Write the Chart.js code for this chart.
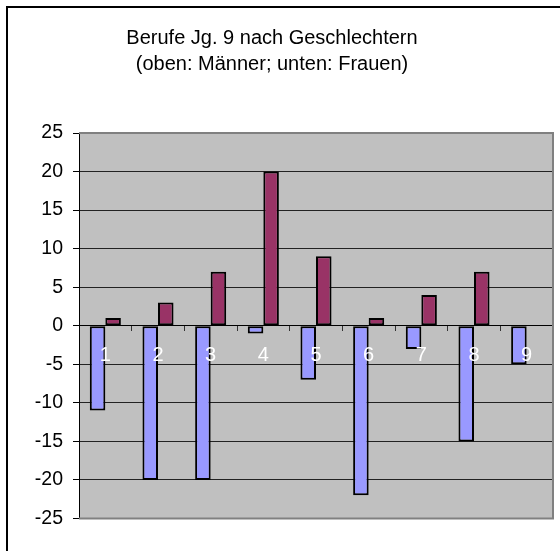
<!DOCTYPE html>
<html>
<head>
<meta charset="utf-8">
<script src="https://cdn.jsdelivr.net/npm/chart.js@4/dist/chart.umd.min.js"></script>
<style>
  html, body { margin: 0; padding: 0; background: #fff; }
  canvas { display: block; }
</style>
</head>
<body>
<canvas id="chart" width="560" height="551"></canvas>
<script>
// Jahrgang 9: Berufswünsche nach Geschlecht
const categories = ['1', '2', '3', '4', '5', '6', '7', '8', '9'];
const frauen = [-11, -20, -20, -1, -7, -22, -3, -15, -5];
const maenner = [1, 3, 7, 20, 9, 1, 4, 7, 0];
const yTicks = [-25, -20, -15, -10, -5, 0, 5, 10, 15, 20, 25];

const FONT = "'Liberation Sans', Arial, sans-serif";

// Gray plot area, outer chart frame and plot border
const framePlugin = {
  id: 'frame',
  beforeDraw(chart) {
    const { ctx, chartArea: a, width, height } = chart;
    ctx.save();
    ctx.fillStyle = '#fff';
    ctx.fillRect(0, 0, width, height);
    ctx.fillStyle = '#C0C0C0';
    ctx.fillRect(a.left, a.top, a.right - a.left, a.bottom - a.top);
    ctx.strokeStyle = '#000';
    ctx.lineWidth = 2;
    ctx.strokeRect(7, 7, width + 20, height + 20);
    ctx.restore();
  },
  afterDraw(chart) {
    const { ctx, chartArea: a } = chart;
    ctx.save();
    ctx.strokeStyle = '#808080';
    ctx.lineWidth = 2;
    ctx.beginPath();
    ctx.moveTo(a.left, a.top);
    ctx.lineTo(a.right, a.top);
    ctx.lineTo(a.right, a.bottom);
    ctx.lineTo(a.left, a.bottom);
    ctx.stroke();
    ctx.restore();
  }
};

new Chart(document.getElementById('chart'), {
  type: 'bar',
  data: {
    labels: categories,
    datasets: [
      {
        label: 'Frauen',
        data: frauen,
        backgroundColor: '#9999FF',
        borderColor: '#000',
        borderWidth: 2,
        borderSkipped: false,
        categoryPercentage: 0.59,
        barPercentage: 1
      },
      {
        label: 'Männer',
        data: maenner,
        backgroundColor: '#993366',
        borderColor: '#000',
        borderWidth: 2,
        borderSkipped: false,
        categoryPercentage: 0.59,
        barPercentage: 1
      }
    ]
  },
  options: {
    responsive: false,
    animation: false,
    devicePixelRatio: 1,
    layout: { padding: { left: -9, right: 7, top: 0, bottom: 32.5 } },
    plugins: {
      legend: { display: false },
      tooltip: { enabled: false },
      title: {
        display: true,
        text: ['Berufe Jg. 9 nach Geschlechtern', '(oben: Männer; unten: Frauen)'],
        color: '#000',
        font: { family: FONT, size: 20, weight: 'normal', lineHeight: 1.3 },
        padding: { top: 25, bottom: 56 }
      }
    },
    scales: {
      x: {
        position: { y: 0 },
        offset: true,
        border: { display: true, color: '#000', width: 1, z: 1 },
        grid: {
          offset: true,
          drawOnChartArea: false,
          drawTicks: true,
          tickLength: 5,
          tickColor: '#333'
        },
        ticks: {
          z: 1,
          color: '#fff',
          padding: 13,
          maxRotation: 0,
          font: { family: FONT, size: 20 }
        }
      },
      y: {
        min: -25,
        max: 25,
        afterFit(scale) { scale.width = 88; },
        afterBuildTicks(scale) { scale.ticks = yTicks.map(v => ({ value: v })); },
        border: { display: true, color: '#000', width: 1 },
        grid: {
          color: ctx => (ctx.tick && Math.abs(ctx.tick.value) === 25) ? 'rgba(0,0,0,0)' : '#222',
          lineWidth: 1,
          drawTicks: true,
          tickLength: 6,
          tickColor: '#000'
        },
        ticks: {
          color: '#000',
          padding: 10,
          font: { family: FONT, size: 19.5 }
        }
      }
    }
  },
  plugins: [framePlugin]
});
</script>
</body>
</html>
